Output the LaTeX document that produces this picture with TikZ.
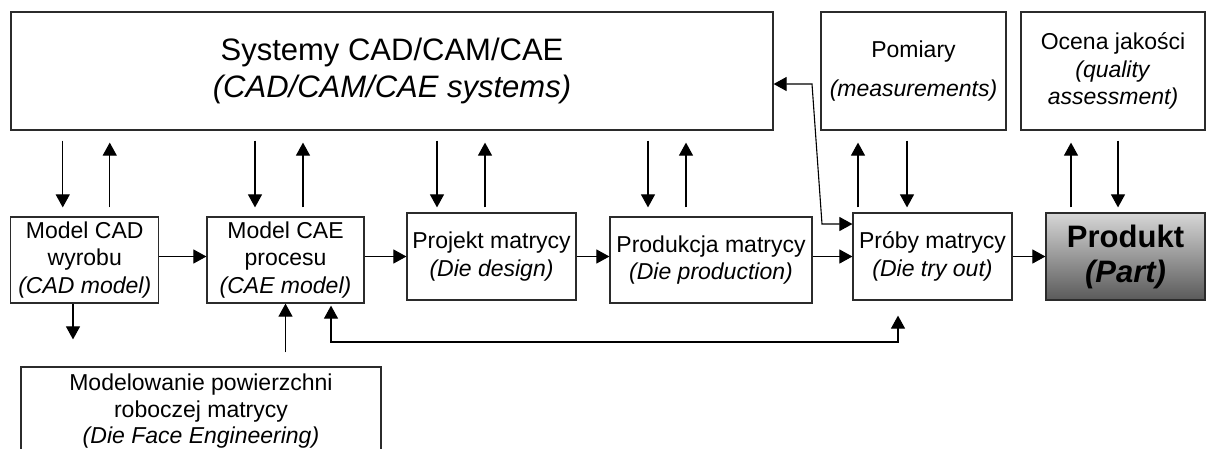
\documentclass[tikz,border=0pt]{standalone}
\usepackage{fontspec}
\setmainfont{Liberation Sans}
\usetikzlibrary{arrows.meta}
\definecolor{edge}{HTML}{2B2B2B}
\definecolor{partlight}{HTML}{D6D6D6}
\definecolor{partdark}{HTML}{5A5A5A}
\tikzset{
  box/.style={draw=edge, line width=1.2pt, align=center, inner sep=0pt,
    font=\fontsize{23}{27.5}\selectfont},
  arr/.style={line width=1.1pt, -{Triangle[length=13pt,width=14pt]}},
  darr/.style={line width=1.1pt,
    {Triangle[length=13pt,width=14pt]}-{Triangle[length=13pt,width=14pt]}},
}
\begin{document}
\begin{tikzpicture}[x=1pt,y=-1pt]
\useasboundingbox (0,0) rectangle (1206,448);
% upper row
\node[box, minimum width=762pt, minimum height=118pt,
  font=\fontsize{31}{37}\selectfont] (sys) at (392,71)
  {Systemy CAD/CAM/CAE\\\textit{(CAD/CAM/CAE systems)}};
\node[box, minimum width=185pt, minimum height=118pt] (pom) at (913.5,71)
  {Pomiary\\[12pt]\textit{(measurements)}};
\node[box, minimum width=184pt, minimum height=118pt] (oce) at (1113,71)
  {Ocena jakości\\\textit{(quality}\\\textit{assessment)}};
% process chain
\node[box, minimum width=148pt, minimum height=86pt] (cad) at (84.75,260)
  {Model CAD\\wyrobu\\\textit{(CAD model)}};
\node[box, minimum width=157pt, minimum height=86pt] (cae) at (285.5,260)
  {Model CAE\\procesu\\\textit{(CAE model)}};
\node[box, minimum width=169pt, minimum height=87pt] (prj) at (491.5,256.5)
  {Projekt matrycy\\\textit{(Die design)}};
\node[box, minimum width=202pt, minimum height=86pt] (prd) at (711,260)
  {Produkcja matrycy\\\textit{(Die production)}};
\node[box, minimum width=159pt, minimum height=87pt] (prb) at (932.5,256.5)
  {Próby matrycy\\\textit{(Die try out)}};
\node[box, minimum width=159pt, minimum height=87pt, top color=partlight,
  bottom color=partdark, font=\fontsize{31}{35}\selectfont\bfseries] (prt)
  at (1125.5,256.5) {Produkt\\\textit{(Part)}};
\node[box, minimum width=360pt, minimum height=89pt,
  font=\fontsize{23}{26.5}\selectfont] (mfe) at (201,411.5)
  {Modelowanie powierzchni\\roboczej matrycy\\\textit{(Die Face Engineering)}};
% links to the CAD/CAM/CAE systems
\foreach \n/\a/\b/\g in {cad/-22/25/9, cae/-30.5/17.5/9, prj/-54.5/-6.5/5, prd/-63/-25/9}{
  \draw[arr, shorten <=10pt, shorten >=\g pt] ([xshift=\a pt]\n.north |- sys.south) -- ([xshift=\a pt]\n.north);
  \draw[arr, shorten <=\g pt, shorten >=12pt] ([xshift=\b pt]\n.north) -- ([xshift=\b pt]\n.north |- sys.south);
}
\draw[arr, shorten <=5pt, shorten >=12pt] ([xshift=-74.5pt]prb.north) -- ([xshift=-74.5pt]prb.north |- pom.south);
\draw[arr, shorten <=10pt, shorten >=5pt] ([xshift=-25.5pt]prb.north |- pom.south) -- ([xshift=-25.5pt]prb.north);
\draw[arr, shorten <=5pt, shorten >=12pt] ([xshift=-54.5pt]prt.north) -- ([xshift=-54.5pt]prt.north |- oce.south);
\draw[arr, shorten <=10pt, shorten >=5pt] ([xshift=-7.5pt]prt.north |- oce.south) -- ([xshift=-7.5pt]prt.north);
% main flow
\foreach \a/\b in {cad/cae, cae/prj, prj/prd, prd/prb, prb/prt}
  \draw[arr] (\a.east |- prj) -- (\b.west |- prj);
\draw[arr, shorten >=27pt] ([xshift=-11.75pt]cad.south) -- ([xshift=-11.75pt]cad.south |- mfe.north);
\draw[arr, shorten <=14pt] (cae.south |- mfe.north) -- (cae.south);
% feedback
\coordinate (lp) at (0,342);
\draw[darr, shorten <=2pt, shorten >=15pt] ([xshift=45.5pt]cae.south) -- ([xshift=45.5pt]cae.south |- lp)
  -- ([xshift=-34.5pt]prb.south |- lp) -- ([xshift=-34.5pt]prb.south);
\coordinate (k1) at (812,84);
\coordinate (k2) at (822,224);
\draw[darr] (sys.east |- k1) -- (k1) -- (k2) -- (prb.west |- k2);
\end{tikzpicture}
\end{document}
